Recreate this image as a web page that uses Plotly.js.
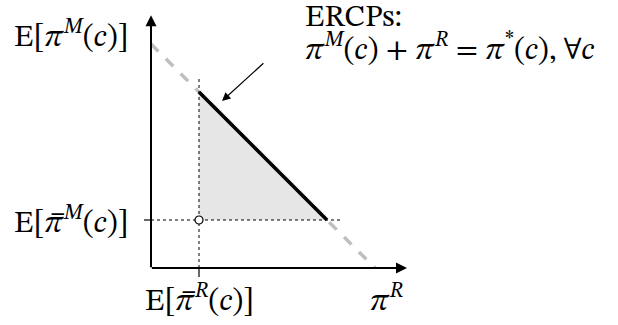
<!DOCTYPE html>
<html>
<head>
<meta charset="utf-8">
<script src="https://cdn.plot.ly/plotly-3.0.1.min.js"></script>
<style>
  html, body { margin: 0; padding: 0; background: #ffffff; }
  #chart { width: 618px; height: 325px; }
</style>
</head>
<body>
<div id="chart"></div>
<script>
// Conceptual diagram, abstract units (1 unit ~ 32px)
const piStar = 7;            // pi^M + pi^R = pi*(c)
const barR = 1.5;            // E[pi-bar^R(c)]
const barM = 1.5;            // E[pi-bar^M(c)]
const axisMax = [8, 7.9];    // x and y axis arrow tips

// ERCP segment: from (barR, piStar - barR) to (piStar - barM, barM)
const ercpX = [barR, piStar - barM];
const ercpY = [piStar - barR, barM];

// full pi* line (dashed)
const fullX = [0, piStar];
const fullY = [piStar, 0];

// shaded set
const regionX = [barR, barR, piStar - barM, barR];
const regionY = [piStar - barR, barM, barM, piStar - barR];

// dotted guides
const vGuideX = [barR, barR];
const vGuideY = [0, 6];
const hGuideX = [0, 6];
const hGuideY = [barM, barM];

const serif = 'STIX Two Math';
const fs = 31;

// math italic glyphs
const PI = '\u{1D70B}', C = '\u{1D450}', M = '\u{1D440}', R = '\u{1D445}';
const PIBAR = PI + '\u0305';

// pixel -> unit helpers for the plot frame
const PX = 32, ox = 151, oy = 268, W = 618, H = 325;

const traces = [
  {
    x: regionX, y: regionY, type: 'scatter', mode: 'lines',
    fill: 'toself', fillcolor: '#e6e6e6', line: { width: 0 }, hoverinfo: 'skip'
  },
  {
    x: fullX, y: fullY, type: 'scatter', mode: 'lines',
    line: { color: '#bfbfbf', width: 3.5, dash: 'dash' }, hoverinfo: 'skip'
  },
  {
    x: vGuideX, y: vGuideY, type: 'scatter', mode: 'lines',
    line: { color: '#000000', width: 1, dash: 'dot' }, hoverinfo: 'skip'
  },
  {
    x: hGuideX, y: hGuideY, type: 'scatter', mode: 'lines',
    line: { color: '#000000', width: 1, dash: 'dot' }, hoverinfo: 'skip'
  },
  {
    x: ercpX, y: ercpY, type: 'scatter', mode: 'lines',
    line: { color: '#000000', width: 3.5 }, hoverinfo: 'skip'
  },
  {
    x: [barR], y: [barM], type: 'scatter', mode: 'markers',
    marker: { size: 8, color: '#ffffff', line: { color: '#000000', width: 1.2 } },
    hoverinfo: 'skip'
  }
];

const label = (text, x, y, xanchor, yanchor) => ({
  text, x, y, xref: 'x', yref: 'y', xanchor, yanchor,
  showarrow: false, font: { family: serif, size: fs, color: '#000000' }
});

const arrow = (x, y, ax, ay, width, size) => ({
  x, y, ax, ay, xref: 'x', yref: 'y', axref: 'x', ayref: 'y',
  text: '', showarrow: true, arrowhead: 2, arrowsize: size,
  arrowwidth: width, arrowcolor: '#000000', standoff: 0, startstandoff: 0
});

const annotations = [
  // axes
  arrow(axisMax[0], 0, -0.02, 0, 2, 1.1),
  arrow(0, axisMax[1], 0, -0.02, 2, 1.1),
  // pointer to ERCP segment
  arrow(2.22, 5.22, 3.56, 6.44, 1.2, 1.4),
  // tick labels
  label(`E[${PI}<sup>${M}</sup>(${C})]`, -0.62, 7.3, 'right', 'middle'),
  label(`E[${PIBAR}<sup>${M}</sup>(${C})]`, -0.62, barM - 0.02, 'right', 'middle'),
  label(`E[${PIBAR}<sup>${R}</sup>(${C})]`, barR, -0.3, 'center', 'top'),
  label(`${PI}<sup>${R}</sup>`, 7.35, -0.3, 'center', 'top'),
  label('ERCPs:', 4.75, 8.37, 'left', 'top'),
  label(`${PI}<sup>${M}</sup>(${C}) + ${PI}<sup>${R}</sup> = ${PI}<sup>*</sup>(${C}), ∀${C}`,
        4.75, 6.88, 'left', 'middle')
];

const shapes = [
  // small tick marks
  { type: 'line', xref: 'x', yref: 'y', x0: -0.22, x1: 0, y0: barM, y1: barM,
    line: { color: '#000000', width: 1.2 } },
  { type: 'line', xref: 'x', yref: 'y', x0: barR, x1: barR, y0: 0, y1: -0.28,
    line: { color: '#000000', width: 1.2 } }
];

const layout = {
  width: W, height: H,
  margin: { l: 0, r: 0, t: 0, b: 0 },
  paper_bgcolor: '#ffffff', plot_bgcolor: '#ffffff',
  showlegend: false,
  xaxis: { range: [-ox / PX, (W - ox) / PX], visible: false, fixedrange: true },
  yaxis: { range: [(oy - H) / PX, oy / PX], visible: false, fixedrange: true },
  annotations, shapes
};

Plotly.newPlot('chart', traces, layout, { displayModeBar: false, staticPlot: true });
</script>
</body>
</html>
